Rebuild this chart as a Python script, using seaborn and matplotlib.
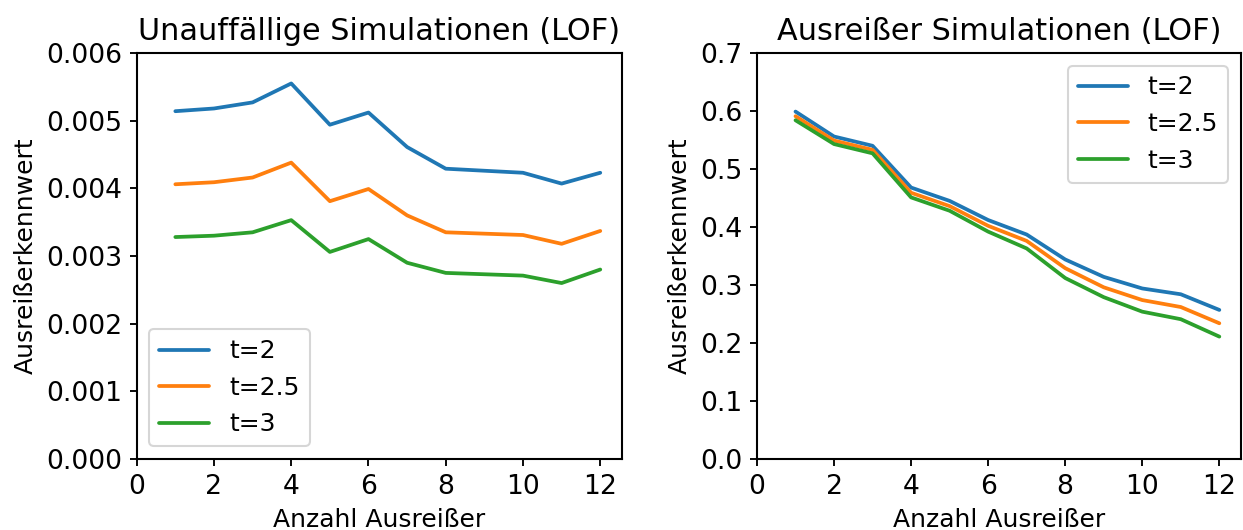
import numpy as np
import pandas as pd
import matplotlib
matplotlib.use("Agg")
import matplotlib.pyplot as plt
import seaborn as sns

# Number of outliers
anzahl = [1, 2, 3, 4, 5, 6, 7, 8, 9, 10, 11, 12]
labels = ["t=2", "t=2.5", "t=3"]

# Inconspicuous simulations (LOF)
unauff_t2 = [0.00514, 0.00518, 0.00527, 0.00555, 0.00494, 0.00512, 0.00461, 0.00429, 0.00426, 0.00423, 0.00407, 0.00423]
unauff_t25 = [0.00406, 0.00409, 0.00416, 0.00438, 0.00381, 0.00399, 0.00360, 0.00335, 0.00333, 0.00331, 0.00318, 0.00337]
unauff_t3 = [0.00328, 0.00330, 0.00335, 0.00353, 0.00306, 0.00325, 0.00290, 0.00275, 0.00273, 0.00271, 0.00260, 0.00280]

# Outlier simulations (LOF)
ausr_t2 = [0.599, 0.556, 0.540, 0.468, 0.445, 0.412, 0.387, 0.344, 0.314, 0.294, 0.284, 0.257]
ausr_t25 = [0.591, 0.549, 0.533, 0.459, 0.436, 0.402, 0.376, 0.329, 0.296, 0.274, 0.262, 0.234]
ausr_t3 = [0.584, 0.543, 0.527, 0.451, 0.428, 0.392, 0.363, 0.312, 0.279, 0.254, 0.241, 0.211]


def long_frame(series):
    rows = []
    for lab, vals in zip(labels, series):
        for x, v in zip(anzahl, vals):
            rows.append({"Anzahl": x, "Wert": v, "t": lab})
    return pd.DataFrame(rows)


df_left = long_frame([unauff_t2, unauff_t25, unauff_t3])
df_right = long_frame([ausr_t2, ausr_t25, ausr_t3])

sns.set_theme(style="ticks")
plt.rcParams.update({
    "font.family": ["DejaVu Sans"],
    "font.size": 12,
    "axes.titlesize": 14.5,
    "axes.labelsize": 12,
    "xtick.labelsize": 12.8,
    "ytick.labelsize": 12.8,
    "legend.fontsize": 12,
    "axes.edgecolor": "black",
    "axes.linewidth": 1.0,
    "xtick.color": "black",
    "ytick.color": "black",
    "xtick.major.size": 3.5,
    "ytick.major.size": 3.5,
    "xtick.major.width": 0.9,
    "ytick.major.width": 0.9,
    "text.color": "black",
    "axes.labelcolor": "black",
})

palette = dict(zip(labels, ["#1f77b4", "#ff7f0e", "#2ca02c"]))

fig = plt.figure(figsize=(1243 / 150, 530 / 150), dpi=150)
ax1 = fig.add_axes([0.110, 0.134, 0.390, 0.766])
ax2 = fig.add_axes([0.609, 0.134, 0.389, 0.766])

sns.lineplot(data=df_left, x="Anzahl", y="Wert", hue="t", hue_order=labels,
             palette=palette, linewidth=1.8, ax=ax1)
sns.lineplot(data=df_right, x="Anzahl", y="Wert", hue="t", hue_order=labels,
             palette=palette, linewidth=1.8, ax=ax2)

ax1.set_xlim(0, 12.55)
ax1.set_ylim(0, 0.006)
ax1.set_yticks(np.arange(0, 0.0061, 0.001))
ax1.set_yticklabels([f"{v:.3f}" for v in np.arange(0, 0.0061, 0.001)])
ax1.set_xticks([0, 2, 4, 6, 8, 10, 12])
ax1.set_title("Unauffällige Simulationen (LOF)")
ax1.set_xlabel("Anzahl Ausreißer")
ax1.set_ylabel("Ausreißerkennwert")
ax1.legend(loc="lower left", title=None, frameon=True, handlelength=2.0)

ax2.set_xlim(0, 12.55)
ax2.set_ylim(0, 0.7)
ax2.set_yticks(np.arange(0, 0.71, 0.1))
ax2.set_yticklabels([f"{v:.1f}" for v in np.arange(0, 0.71, 0.1)])
ax2.set_xticks([0, 2, 4, 6, 8, 10, 12])
ax2.set_title("Ausreißer Simulationen (LOF)")
ax2.set_xlabel("Anzahl Ausreißer")
ax2.set_ylabel("Ausreißerkennwert")
ax2.legend(loc="upper right", title=None, frameon=True, handlelength=2.0)

fig.savefig("out.png", dpi=150)
